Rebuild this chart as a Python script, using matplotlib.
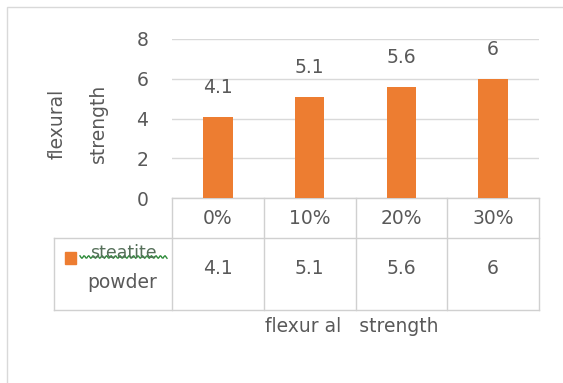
import matplotlib
matplotlib.use("Agg")
import matplotlib.pyplot as plt
from matplotlib.patches import Rectangle
from matplotlib.lines import Line2D
import numpy as np

categories = ["0%", "10%", "20%", "30%"]
values = [4.1, 5.1, 5.6, 6]
series_name = ["steatite", "powder"]
axis_title = "flexur al   strength"
y_ticks = [0, 2, 4, 6, 8]

BAR = "#ED7D31"
TXT = "#595959"
GRID = "#D9D9D9"
TLINE = "#D0D0D0"
FS = 13.5

plt.rcParams["font.family"] = ["DejaVu Sans"]

W, H = 563, 383
fig = plt.figure(figsize=(W / 100, H / 100), dpi=100)

def fx(px):
    return px / W

def fy(py):
    return 1 - py / H

# plot area: x 172..539, y 39 (8) .. 198 (0)
ax = fig.add_axes([fx(172), fy(198), fx(539) - fx(172), fy(39) - fy(198)])
x = np.arange(len(categories))
bars = ax.bar(x, values, width=0.32, color=BAR, zorder=3)
ax.bar_label(bars, labels=[f"{v:g}" for v in values], padding=14,
             color=TXT, fontsize=FS)
ax.set_xlim(-0.5, len(categories) - 0.5)
ax.set_ylim(0, 8)
ax.set_yticks(y_ticks)
ax.yaxis.grid(True, color=GRID, linewidth=1, zorder=0)
ax.set_xticks([])
for s in ax.spines.values():
    s.set_visible(False)
ax.tick_params(axis="y", length=0, pad=17, labelsize=FS, labelcolor=TXT)

# y axis title in two lines
fig.text(fx(57), fy(124), "flexural", rotation=90, ha="center", va="center",
         color=TXT, fontsize=FS)
fig.text(fx(98), fy(123), "strength", rotation=90, ha="center", va="center",
         color=TXT, fontsize=FS)

# data table under the axis
tr = ax.get_xaxis_transform()
def ay(py):
    # pixel row -> axes fraction
    return (198 - py) / (198 - 39)

y_top, y_bot = ay(198), ay(310)
bounds = np.arange(len(categories) + 1) - 0.5
for b in bounds:
    ax.add_line(Line2D([b, b], [y_top, y_bot], transform=tr, color=TLINE,
                       linewidth=1, clip_on=False))
ax.add_line(Line2D([-0.5, bounds[-1]], [y_top, y_top], transform=tr,
                   color=TLINE, linewidth=1, clip_on=False))
for py in (238, 310):
    fig.add_artist(Line2D([fx(54), fx(539)], [fy(py)] * 2,
                          color=TLINE, linewidth=1))
fig.add_artist(Line2D([fx(54), fx(54)], [fy(238), fy(310)], color=TLINE,
                      linewidth=1))

for i, (c, v) in enumerate(zip(categories, values)):
    ax.text(i, ay(218), c, transform=tr, ha="center", va="center",
            color=TXT, fontsize=FS)
    ax.text(i, ay(268), f"{v:g}", transform=tr, ha="center", va="center",
            color=TXT, fontsize=FS)

# legend key inside the table (series name carries a spell-check squiggle)
fig.add_artist(Rectangle((fx(65), fy(264)), fx(11), 12 / H, color=BAR))
fig.text(fx(123), fy(253), series_name[0], ha="center", va="center",
         color="#56705A", fontsize=12.5)
wx = np.linspace(80, 167, 90)
fig.add_artist(Line2D(fx(wx), fy(257 + 1.3 * np.sin(wx * 1.4)),
                      color="#2E8B3A", linewidth=1.0))
fig.text(fx(122), fy(282), series_name[1], ha="center", va="center",
         color=TXT, fontsize=FS)

fig.text(fx(352), fy(327), axis_title, ha="center", va="center",
         color=TXT, fontsize=FS)

# chart border
fig.add_artist(Rectangle((fx(7), fy(395)), fx(560), (395 - 7) / H,
                         fill=False, edgecolor=GRID, linewidth=1))

fig.savefig("out.png", dpi=100, facecolor="white")
